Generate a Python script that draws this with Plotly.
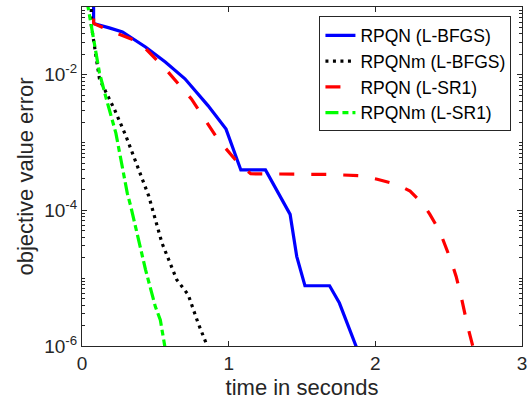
import plotly.graph_objects as go

# ---- data ----
names = ["RPQN (L-BFGS)", "RPQNm (L-BFGS)", "RPQN (L-SR1)", "RPQNm (L-SR1)"]

t_rpqn_bfgs = [0.079, 0.079, 0.186, 0.276, 0.433, 0.568, 0.702, 0.859, 0.982, 1.083,
               1.251, 1.419, 1.464, 1.520, 1.688, 1.755, 1.872]
e_rpqn_bfgs = [0.2, 0.0570, 0.0492, 0.0430, 0.0257, 0.0154, 0.00873, 0.00351, 0.00158,
               0.000395, 0.000395, 8.73e-5, 2.10e-5, 7.74e-6, 7.74e-6, 4.30e-6, 9.5e-7]

t_rpqnm_bfgs = [0.063, 0.063, 0.097, 0.119, 0.153, 0.22, 0.299, 0.366, 0.455, 0.545,
                0.646, 0.724, 0.792, 0.858]
e_rpqnm_bfgs = [0.2, 0.055, 0.0178, 0.00871, 0.00617, 0.00313, 0.00126, 0.000509,
                0.000163, 3.32e-5, 9.5e-6, 5.7e-6, 2.17e-6, 9.5e-7]

t_rpqn_sr1 = [0.079, 0.079, 0.186, 0.389, 0.568, 0.746, 0.926, 1.061, 1.15, 1.70, 1.90,
              2.013, 2.15, 2.237, 2.327, 2.372, 2.439, 2.518, 2.551, 2.585, 2.630, 2.667]
e_rpqn_sr1 = [0.2, 0.0570, 0.0453, 0.0305, 0.01227, 0.00441, 0.001127, 0.000509,
              0.000347, 0.000339, 0.000324, 0.000288, 0.000240, 0.000193, 0.000123,
              8.73e-5, 4.93e-5, 1.77e-5, 1.06e-5, 5.37e-6, 1.93e-6, 9.5e-7]

t_rpqnm_sr1 = [0.03, 0.119, 0.164, 0.231, 0.309, 0.332, 0.433, 0.5, 0.534, 0.566]
e_rpqnm_sr1 = [0.138, 0.0107, 0.00457, 0.00138, 0.000178, 0.000116, 1.34e-5, 3.82e-6,
               2.43e-6, 9.5e-7]

x_ticks = [0, 1, 2, 3]
y_ticks = [1e-6, 1e-4, 1e-2]
y_ticktext = ["10<sup>-6</sup>", "10<sup>-4</sup>", "10<sup>-2</sup>"]

# ---- styles ----
FONT = "Liberation Sans, Arial, Helvetica, sans-serif"
AX = "#262626"
styles = [
    dict(color="#0000FF", width=3.2, dash="solid"),
    dict(color="#000000", width=3.2, dash="3px,4.5px"),
    dict(color="#FF0000", width=3.2, dash="15px,17px"),
    dict(color="#00FF00", width=3.2, dash="13px,4px,6px,4px"),
]
series = [(t_rpqn_bfgs, e_rpqn_bfgs), (t_rpqnm_bfgs, e_rpqnm_bfgs),
          (t_rpqn_sr1, e_rpqn_sr1), (t_rpqnm_sr1, e_rpqnm_sr1)]

fig = go.Figure()
for name, (t, e), st in zip(names, series, styles):
    fig.add_trace(go.Scatter(x=t, y=e, mode="lines", name=name, line=st))

minor_vals = [k * 10.0 ** p for p in range(-6, 0) for k in range(1, 10)]

fig.update_layout(
    width=529, height=405,
    margin=dict(l=82, r=2, t=7, b=59),
    paper_bgcolor="white", plot_bgcolor="white",
    font=dict(family=FONT, color=AX, size=19),
    showlegend=True,
    legend=dict(
        x=0.976, y=0.972, xanchor="right", yanchor="top",
        bgcolor="white", bordercolor=AX, borderwidth=1,
        font=dict(family=FONT, size=17.5, color="#000000"),
        tracegroupgap=0, itemwidth=30,
    ),
    xaxis=dict(
        range=[0, 3], tickvals=x_ticks, ticktext=[str(v) for v in x_ticks],
        ticks="inside", ticklen=5, tickcolor=AX, tickwidth=1,
        showline=True, linecolor=AX, linewidth=1, mirror="ticks",
        showgrid=False, zeroline=False, ticklabeloverflow="allow",
        title=dict(text="time in seconds", font=dict(size=22, color=AX), standoff=6),
        tickfont=dict(size=19, color=AX),
    ),
    yaxis=dict(
        type="log", range=[-6, -1], tickvals=y_ticks, ticktext=y_ticktext,
        ticks="inside", ticklen=5, tickcolor=AX, tickwidth=1,
        showline=True, linecolor=AX, linewidth=1, mirror="ticks",
        showgrid=False, zeroline=False,
        minor=dict(tickvals=minor_vals, ticks="inside", ticklen=3,
                   tickcolor=AX, tickwidth=1, showgrid=False),
        title=dict(text="objective value error", font=dict(size=22, color=AX), standoff=4),
        tickfont=dict(size=19, color=AX),
    ),
)

fig.write_html("out.html")
